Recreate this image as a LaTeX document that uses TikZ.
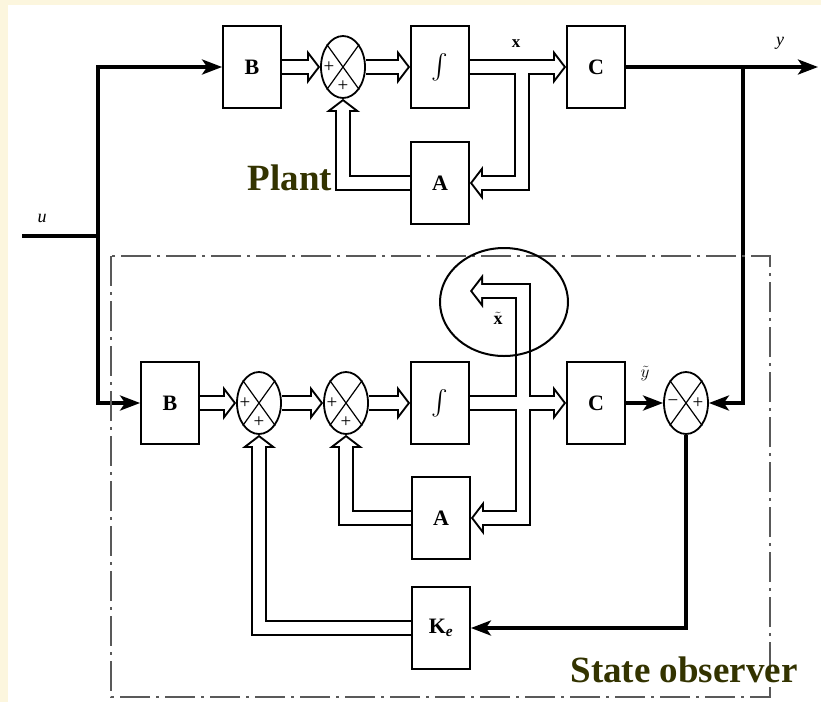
\documentclass[tikz,border=0pt]{standalone}
\usepackage{amsmath}
\usepackage{fontspec}
\setmainfont{Liberation Serif}
\usetikzlibrary{arrows.meta,shapes.geometric,backgrounds}
\definecolor{olivetxt}{RGB}{51,51,0}
\definecolor{paper}{RGB}{252,246,222}

\begin{document}
\begin{tikzpicture}[x=1pt, y=-1pt,
  blk/.style={rectangle, draw=black, line width=1.8pt, minimum width=58pt, minimum height=82pt, inner sep=0pt, font={\fontsize{22}{24}\selectfont\bfseries}},
  sumj/.style={ellipse, draw=black, line width=1.8pt, minimum width=44pt, minimum height=62pt, inner sep=0pt},
  sgn/.style={inner sep=0pt, font={\fontsize{19}{19}\selectfont}},
  ital/.style={inner sep=0pt, font={\fontsize{18}{18}\selectfont\itshape}},
  bold/.style={inner sep=0pt, font={\fontsize{17}{18}\selectfont\bfseries}},
  big/.style={inner sep=0pt, text=olivetxt, font={\fontsize{37}{40}\selectfont\bfseries}},
  sig/.style={line width=3.5pt, -{Stealth[length=20pt,width=15pt,inset=5pt]}},
  sigplain/.style={line width=3.5pt},
  busout/.style={draw=black, line width=16pt, -{Triangle[length=13pt,width=34pt,line width=0pt]}},
  busin/.style={draw=white, line width=12pt, shorten >=2.5pt, -{Triangle[length=8.5pt,width=22pt,line width=0pt]}},
  obsbox/.style={draw=black!65, line width=1.2pt, dash pattern=on 30pt off 6pt on 3pt off 6pt}
]
\useasboundingbox (0,0) rectangle (821,702);

\node[blk] (B1) at (252,67) {B};
\node[sumj] (S1) at (343,67) {};
\node[blk, font={\fontsize{24}{26}\selectfont}] (I1) at (440,67) {$\boldsymbol{\int}$};
\node[blk] (C1) at (596,67) {C};
\node[blk] (A1) at (440,183) {A};

\node[blk] (B2) at (170,403) {B};
\node[sumj] (S2a) at (259,403) {};
\node[sumj] (S2b) at (346,403) {};
\node[blk, font={\fontsize{24}{26}\selectfont}] (I2) at (440,403) {$\boldsymbol{\int}$};
\node[blk] (C2) at (596,403) {C};
\node[sumj] (S3) at (686,403) {};
\node[blk] (A2) at (441,518) {A};
\node[blk] (K) at (441,628) {K\textsubscript{\textit{e}}};

\coordinate (jt) at (522,67);
\coordinate (jb) at (523,403);
\coordinate (xt) at (470,291);
\coordinate (uin) at (22,236);
\coordinate (split) at (98,236);
\coordinate (yout) at (818,67);
\coordinate (ytap) at (743,67);

\foreach \s in {S1,S2a,S2b,S3}
  \draw[line width=1.2pt] (\s.north west) -- (\s.south east) (\s.north east) -- (\s.south west);
\foreach \s in {S1,S2a,S2b}{
  \node[sgn] (\s-l) at ([xshift=-14pt]\s.center) {+};
  \node[sgn] (\s-b) at ([yshift=-19pt]\s.center) {+};
}
\node[sgn] (S3-l) at ([xshift=-13pt]S3.center) {−};
\node[sgn] (S3-r) at ([xshift=12pt]S3.center) {+};

\begin{scope}[on background layer]
\fill[paper] (0,0) rectangle (821,702);
\fill[white] (8,5) rectangle (821,702);
\foreach \q in {busout,busin}{
  \draw[\q] (B1.east) -- (S1.west);
  \draw[\q] (S1.east) -- (I1.west);
  \draw[\q] (I1.east) -- (C1.west);
  \draw[\q] (jt) |- (A1.east);
  \draw[\q] (A1.west) -| (S1.south);
  \draw[\q] (B2.east) -- (S2a.west);
  \draw[\q] (S2a.east) -- (S2b.west);
  \draw[\q] (S2b.east) -- (I2.west);
  \draw[\q] (I2.east) -- (C2.west);
  \draw[\q] (jb) |- (xt);
  \draw[\q] (jb) |- (A2.east);
  \draw[\q] (A2.west) -| (S2b.south);
  \draw[\q] (K.west) -| (S2a.south);
}
\end{scope}

\draw[sigplain] (uin) -- (split);
\draw[sig] (split) |- (B1.west);
\draw[sig] (split) |- (B2.west);
\draw[sig] (C1.east) -- (yout);
\draw[sig] (ytap) |- (S3.east);
\draw[sig] (C2.east) -- (S3.west);
\draw[sig] (S3.south) |- (K.east);

\draw[obsbox] (111,256) rectangle (770,697);
\node[draw=black, ellipse, line width=2pt, minimum width=128pt, minimum height=108pt] (hl) at (504,302) {};

\node[ital] (ulab) at (42,218) {u};
\node[ital] (ylab) at (780,43) {y};
\node[bold] (xlab) at (516,44) {x};
\node[inner sep=0pt, font={\fontsize{18}{20}\selectfont}] (xtlab) at (498,318) {$\tilde{\mathbf{x}}$};
\node[inner sep=0pt, font={\fontsize{19}{20}\selectfont}] (ytlab) at (645,374) {$\tilde{y}$};
\node[big, anchor=base] (plant) at (290,190) {Plant};
\node[big, anchor=base] (obs) at (684,682) {State observer};
\end{tikzpicture}
\end{document}
